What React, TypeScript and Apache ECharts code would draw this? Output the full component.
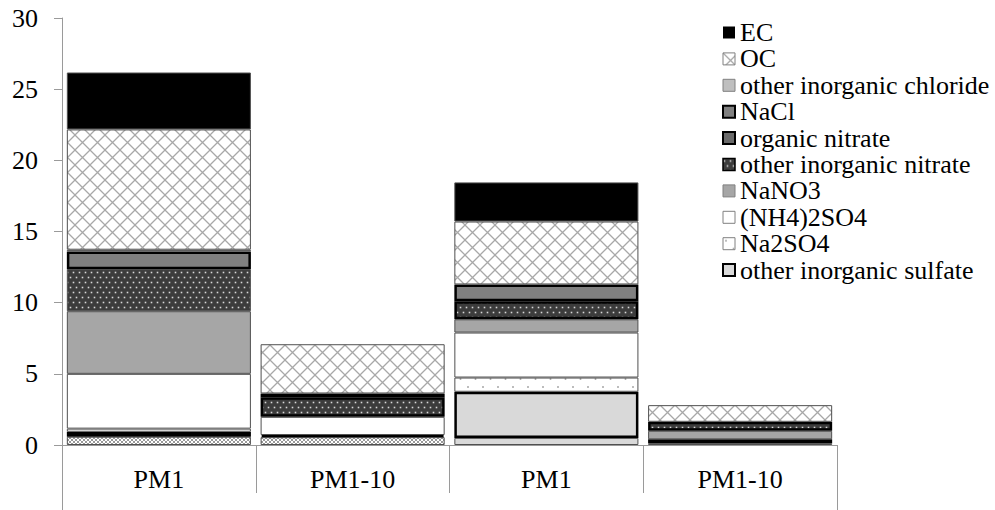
import React, { useEffect, useRef } from "react";
import * as echarts from "echarts";

const categories = ["PM1", "PM1-10", "PM1", "PM1-10"];
const yTicks = { min: 0, max: 30, interval: 5 };

const otherBase = [0.58, 0.55, 0.5, 0.1];
const otherInorganicSulfate = [0.35, 0.15, 3.24, 0.3];
const na2so4 = [0.22, 0, 1.0, 0];
const nh42so4 = [3.85, 1.28, 3.16, 0];
const nano3 = [4.4, 0, 0.93, 0.6];
const otherInorganicNitrate = [2.95, 1.37, 1.27, 0.63];
const organicNitrate = [0, 0, 0, 0];
const nacl = [1.25, 0.27, 1.18, 0];
const otherInorganicChloride = [0.12, 0, 0, 0];
const oc = [8.45, 3.46, 4.42, 1.17];
const ec = [4.0, 0, 2.75, 0];

const FONT = "Liberation Serif";
const FS = 26;

function pat(w: number, h: number, bg: string, draw: (c: CanvasRenderingContext2D) => void) {
  const c = document.createElement("canvas");
  c.width = w;
  c.height = h;
  const ctx = c.getContext("2d")!;
  ctx.fillStyle = bg;
  ctx.fillRect(0, 0, w, h);
  draw(ctx);
  return { image: c, repeat: "repeat" } as any;
}

function dots(ctx: CanvasRenderingContext2D, pts: number[][], color: string, r: number) {
  ctx.fillStyle = color;
  pts.forEach(([x, y]) => {
    ctx.fillRect(x - r / 2, y - r / 2, r, r);
  });
}

export default function App() {
  const ref = useRef<HTMLDivElement>(null);
  useEffect(() => {
    const chart = echarts.init(ref.current!, null, { renderer: "svg" });

    const lattice = pat(15, 15, "#ffffff", (ctx) => {
      ctx.strokeStyle = "#a8a8a8";
      ctx.lineWidth = 1.3;
      ctx.beginPath();
      ctx.moveTo(-1, -1);
      ctx.lineTo(16, 16);
      ctx.moveTo(16, -1);
      ctx.lineTo(-1, 16);
      ctx.stroke();
    });
    const fineHatch = pat(4, 4, "#ffffff", (ctx) => {
      ctx.strokeStyle = "#9a9a9a";
      ctx.lineWidth = 1;
      ctx.beginPath();
      ctx.moveTo(0, 0);
      ctx.lineTo(4, 4);
      ctx.moveTo(4, 0);
      ctx.lineTo(0, 4);
      ctx.stroke();
    });
    const darkDots = pat(6, 10, "#3c3c3c", (ctx) => {
      dots(ctx, [[1.5, 2.5], [4.5, 7.5]], "#d8d8d8", 1.6);
    });
    const sparseDots = pat(15, 16, "#ffffff", (ctx) => {
      dots(ctx, [[3, 3], [10.5, 11]], "#999999", 1.6);
    });

    const thin = { borderColor: "#505050", borderWidth: 1 };
    const thick = { borderColor: "#000000", borderWidth: 2.5 };

    const seriesDefs: { name: string; data: number[]; style: any; items?: any[] }[] = [
      {
        name: "other",
        data: otherBase,
        style: { color: fineHatch, ...thin },
        items: [null, null, { color: "#d9d9d9" }, { color: "#d9d9d9" }],
      },
      { name: "other inorganic sulfate", data: otherInorganicSulfate, style: { color: "#d9d9d9", ...thick } },
      { name: "Na2SO4", data: na2so4, style: { color: sparseDots, ...thin } },
      { name: "(NH4)2SO4", data: nh42so4, style: { color: "#ffffff", ...thin } },
      { name: "NaNO3", data: nano3, style: { color: "#a6a6a6", ...thin } },
      {
        name: "other inorganic nitrate",
        data: otherInorganicNitrate,
        style: { color: darkDots, ...thick },
        items: [{ ...thin }, null, null, null],
      },
      { name: "organic nitrate", data: organicNitrate, style: { color: "#6a6a6a", ...thick } },
      { name: "NaCl", data: nacl, style: { color: "#808080", ...thick } },
      { name: "other inorganic chloride", data: otherInorganicChloride, style: { color: "#bfbfbf", ...thin } },
      { name: "OC", data: oc, style: { color: lattice, ...thin } },
      { name: "EC", data: ec, style: { color: "#000000", ...thin } },
    ];

    const legendNames = seriesDefs
      .filter((s) => s.name !== "other")
      .map((s) => s.name)
      .reverse();

    const legendBorder: Record<string, any> = {
      EC: { borderWidth: 0 },
      OC: { borderWidth: 1, borderColor: "#808080" },
      "other inorganic chloride": { borderWidth: 1, borderColor: "#808080" },
      NaCl: { borderWidth: 2, borderColor: "#000" },
      "organic nitrate": { borderWidth: 2, borderColor: "#000" },
      "other inorganic nitrate": { borderWidth: 1.5, borderColor: "#000" },
      NaNO3: { borderWidth: 1, borderColor: "#808080" },
      "(NH4)2SO4": { borderWidth: 1, borderColor: "#808080" },
      Na2SO4: { borderWidth: 1, borderColor: "#808080" },
      "other inorganic sulfate": { borderWidth: 2, borderColor: "#000" },
    };

    const series = seriesDefs.map((s) => ({
      name: s.name,
      type: "bar",
      stack: "total",
      barCategoryGap: "5%",
      itemStyle: s.style,
      emphasis: { disabled: true },
      data: s.data.map((v, i) => {
        const val = v === 0 ? null : v;
        const ov = s.items && s.items[i];
        return ov ? { value: val, itemStyle: ov } : val;
      }),
    }));

    const gridLeft = 62;
    const gridRight = 158;
    const gridTop = 18;
    const gridBottom = 65;
    const W = 995;
    const H = 510;

    chart.setOption({
      animation: false,
      backgroundColor: "#ffffff",
      textStyle: { fontFamily: FONT },
      grid: { left: gridLeft, right: gridRight, top: gridTop, bottom: gridBottom },
      legend: {
        orient: "vertical",
        left: 717,
        top: 14.5,
        icon: "rect",
        itemWidth: 12,
        itemHeight: 12,
        itemGap: 0.4,
        textStyle: { fontFamily: FONT, fontSize: FS, color: "#000", lineHeight: 26 },
        data: legendNames.map((n) => ({ name: n, itemStyle: legendBorder[n] })),
        selectedMode: false,
      },
      xAxis: {
        type: "category",
        data: categories,
        axisLine: { lineStyle: { color: "#9a9a9a", width: 1 } },
        axisTick: { show: true, length: 48, lineStyle: { color: "#9a9a9a" } },
        axisLabel: { fontFamily: FONT, fontSize: FS, color: "#000", margin: 21, lineHeight: 26 },
      },
      yAxis: {
        type: "value",
        min: yTicks.min,
        max: yTicks.max,
        interval: yTicks.interval,
        axisLine: { show: true, lineStyle: { color: "#9a9a9a", width: 1 } },
        axisTick: { show: true, length: 8, lineStyle: { color: "#9a9a9a" } },
        splitLine: { show: false },
        axisLabel: { fontFamily: FONT, fontSize: FS, color: "#000", margin: 24 },
      },
      graphic: [
        {
          type: "line",
          shape: { x1: gridLeft + 0.5, y1: H - gridBottom, x2: gridLeft + 0.5, y2: H },
          style: { stroke: "#9a9a9a", lineWidth: 1 },
        },
        {
          type: "line",
          shape: { x1: W - gridRight + 0.5, y1: H - gridBottom, x2: W - gridRight + 0.5, y2: H },
          style: { stroke: "#9a9a9a", lineWidth: 1 },
        },
      ],
      series,
    } as any);
    return () => chart.dispose();
  }, []);
  return (
    <div
      ref={ref}
      style={{ position: "fixed", left: 0, top: 0, width: 995, height: 510, background: "#fff" }}
    />
  );
}
